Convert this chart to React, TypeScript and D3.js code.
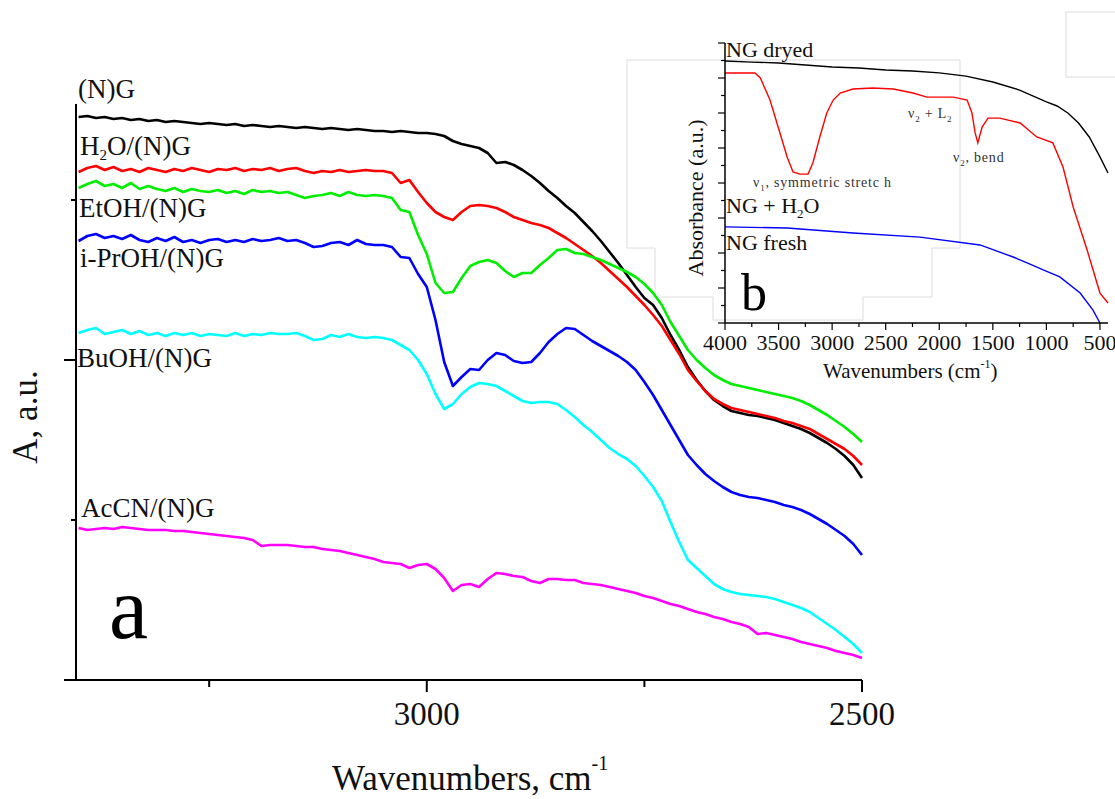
import React from 'react';
import * as d3 from 'd3';

// ---------- main panel (a) ----------
const WAVENUMBERS = [
  3400, 3390, 3380, 3370, 3360, 3350, 3340, 3330, 3320, 3310,
  3300, 3290, 3280, 3270, 3260, 3250, 3240, 3230, 3220, 3210,
  3200, 3190, 3180, 3170, 3160, 3150, 3140, 3130, 3120, 3110,
  3100, 3090, 3080, 3070, 3060, 3050, 3040, 3030, 3020, 3010,
  3000, 2990, 2980, 2970, 2960, 2950, 2940, 2930, 2920, 2910,
  2900, 2890, 2880, 2870, 2860, 2850, 2840, 2830, 2820, 2810,
  2800, 2790, 2780, 2770, 2760, 2750, 2740, 2730, 2720, 2710,
  2700, 2690, 2680, 2670, 2660, 2650, 2640, 2630, 2620, 2610,
  2600, 2590, 2580, 2570, 2560, 2550, 2540, 2530, 2520, 2510, 2500,
];

const NG = [
  563, 564, 562, 563, 561, 562, 560, 561, 559, 560,
  558, 559, 558, 557, 556, 557, 556, 555, 556, 554,
  555, 554, 553, 554, 553, 552, 553, 552, 551, 552,
  551, 550, 551, 550, 549, 549, 548, 549, 548, 547,
  547, 546, 544, 539, 536, 534, 532, 527, 517, 518,
  515, 510, 504, 497, 489, 482, 474, 467, 458, 449,
  439, 428, 417, 405, 393, 382, 375, 362, 345, 330,
  313, 300, 289, 280, 274, 269, 267, 265, 264, 262,
  260, 257, 254, 251, 247, 242, 237, 231, 224, 215, 202,
];

const H2O_NG = [
  508, 512, 514, 510, 513, 509, 511, 508, 512, 510,
  508, 511, 509, 512, 510, 508, 511, 510, 512, 509,
  511, 510, 512, 509, 511, 512, 509, 507, 509, 508,
  510, 508, 509, 510, 509, 509, 507, 497, 500, 488,
  477, 468, 463, 460, 468, 474, 475, 474, 472, 468,
  463, 460, 457, 455, 452, 447, 442, 436, 430, 424,
  417, 409, 401, 393, 384, 375, 365, 354, 340, 326,
  310, 299, 289, 281, 276, 272, 270, 268, 266, 264,
  262, 259, 257, 254, 251, 246, 241, 236, 231, 224, 215,
];

const ETOH_NG = [
  492, 496, 499, 494, 496, 492, 497, 491, 494, 491,
  489, 492, 488, 491, 489, 488, 490, 487, 489, 486,
  490, 488, 489, 487, 488, 485, 482, 484, 485, 487,
  484, 488, 485, 484, 485, 484, 482, 470, 468, 445,
  426, 397, 387, 388, 402, 414, 418, 420, 417, 409,
  403, 407, 407, 415, 422, 430, 431, 427, 426, 423,
  420, 416, 412, 408, 403, 396, 387, 375, 358, 344,
  330, 320, 312, 305, 300, 296, 294, 292, 290, 288,
  286, 284, 282, 279, 275, 270, 265, 259, 253, 246, 238,
];

const IPROH_NG = [
  439, 444, 446, 442, 444, 441, 445, 440, 438, 442,
  439, 443, 438, 440, 437, 440, 441, 438, 440, 438,
  441, 439, 440, 442, 439, 440, 437, 433, 434, 437,
  438, 435, 440, 436, 435, 435, 433, 423, 422, 406,
  393, 360, 318, 294, 303, 311, 310, 320, 327, 325,
  319, 317, 318, 327, 338, 346, 352, 351, 345, 339,
  334, 329, 324, 318, 310, 298, 285, 270, 255, 240,
  225, 215, 206, 199, 193, 188, 185, 183, 182, 180,
  178, 175, 173, 170, 166, 161, 156, 150, 144, 136, 125,
];

const BUOH_NG = [
  347, 350, 352, 346, 348, 350, 346, 349, 345, 347,
  344, 347, 345, 347, 344, 346, 345, 344, 347, 344,
  346, 345, 347, 346, 346, 347, 344, 340, 341, 345,
  343, 346, 343, 342, 343, 342, 340, 335, 330, 320,
  306, 286, 271, 276, 286, 293, 297, 296, 294, 289,
  284, 279, 277, 278, 278, 276, 270, 263, 255, 248,
  240, 232, 226, 221, 214, 204, 193, 179, 158, 138,
  120, 112, 104, 96, 91, 88, 86, 85, 84, 83,
  81, 78, 75, 72, 68, 62, 56, 50, 43, 36, 27,
];

const ACCN_NG = [
  152, 150, 151, 152, 151, 153, 152, 151, 150, 150,
  150, 149, 149, 148, 147, 146, 145, 144, 143, 142,
  140, 134, 135, 135, 135, 134, 133, 133, 131, 130,
  129, 127, 125, 123, 121, 118, 117, 116, 112, 115,
  116, 111, 102, 89, 95, 96, 93, 101, 107, 106,
  104, 103, 99, 97, 101, 101, 100, 100, 97, 96,
  95, 93, 91, 89, 87, 84, 82, 79, 76, 74,
  71, 68, 66, 63, 61, 58, 56, 53, 46, 47,
  45, 43, 41, 38, 36, 34, 32, 29, 27, 25, 22,
];

const X_TICKS = [3250, 3000, 2750, 2500];
const X_TICK_LABELS = ['', '3000', '', '2500'];
const Y_TICKS = [0, 160, 320, 480];

// ---------- inset (b) ----------
const INSET_DRYED_WN = [4000, 3750, 3500, 3250, 3000, 2750, 2500, 2250, 2000, 1750, 1500, 1250, 1000, 900, 800, 700, 600, 500, 425];
const INSET_DRYED = [14.97, 14.91, 14.86, 14.74, 14.63, 14.57, 14.46, 14.4, 14.29, 14.11, 13.77, 13.31, 12.63, 12.4, 12.0, 11.43, 10.63, 9.49, 8.57];

const INSET_H2O_WN = [4000, 3720, 3670, 3580, 3487, 3420, 3365, 3300, 3225, 3180, 3115, 3050, 2990, 2925, 2805, 2620, 2430, 2245, 2115, 1870, 1740, 1695, 1665, 1640, 1600, 1545, 1435, 1245, 1090, 940, 845, 750, 620, 500, 425];
const INSET_H2O = [14.29, 14.29, 14.0, 12.74, 10.86, 9.49, 8.63, 8.51, 8.51, 9.14, 10.63, 12.0, 12.74, 13.14, 13.37, 13.43, 13.37, 13.14, 12.91, 12.91, 12.74, 12.0, 10.86, 10.29, 11.2, 11.71, 11.71, 11.43, 10.63, 10.29, 8.91, 6.63, 4.17, 1.71, 1.14];

const INSET_FRESH_WN = [4000, 3420, 2805, 2180, 1620, 1310, 1180, 1030, 875, 685, 565, 500];
const INSET_FRESH = [5.49, 5.43, 5.14, 4.91, 4.46, 3.77, 3.43, 3.03, 2.63, 1.71, 0.74, 0.0];

const INSET_X_TICKS = [4000, 3750, 3500, 3250, 3000, 2750, 2500, 2250, 2000, 1750, 1500, 1250, 1000, 750, 500];
const INSET_X_LABELS = ['4000', '3500', '3000', '2500', '2000', '1500', '1000', '500'];
const INSET_Y_TICKS = [0, 1, 2, 3, 4, 5, 6, 7, 8, 9, 10, 11, 12, 13, 14, 15, 16];

const SERIF = "'Liberation Serif', 'Times New Roman', serif";

export default function App() {
  const x = d3.scaleLinear().domain([3403, 2500]).range([76, 862]);
  const y = d3.scaleLinear().domain([0, 576]).range([680, 104]);
  const line = d3
    .line<number>()
    .x((_, i) => x(WAVENUMBERS[i]))
    .y((d) => y(d));

  const mainSeries = [
    { values: ACCN_NG, color: '#ff00ff' },
    { values: BUOH_NG, color: '#00ffff' },
    { values: IPROH_NG, color: '#0000ff' },
    { values: NG, color: '#000000' },
    { values: H2O_NG, color: '#ff0000' },
    { values: ETOH_NG, color: '#00ee00' },
  ];

  const xi = d3.scaleLinear().domain([4000, 425]).range([725, 1108]);
  const yi = d3.scaleLinear().domain([0, 16]).range([323, 43]);
  const insetLine = (wn: number[], vals: number[]) =>
    d3
      .line<number>()
      .x((_, i) => xi(wn[i]))
      .y((d) => yi(d))(vals) || '';

  const insetSeries = [
    { wn: INSET_DRYED_WN, values: INSET_DRYED, color: '#000000' },
    { wn: INSET_H2O_WN, values: INSET_H2O, color: '#ff0000' },
    { wn: INSET_FRESH_WN, values: INSET_FRESH, color: '#0000ff' },
  ];

  return (
    <svg
      width={1115}
      height={799}
      style={{ position: 'absolute', left: 0, top: 0, background: '#fff' }}
      fontFamily={SERIF}
    >
      <rect x={0} y={0} width={1115} height={799} fill="#fff" />

      {/* faint composition artifacts */}
      <path
        d="M627,60 H960 V248 H932 V297 H863 V320 H713 V297 H655 V248 H627 Z"
        fill="none"
        stroke="#dcdcdc"
        strokeWidth={1}
      />
      <rect x={1066} y={12} width={60} height={65} fill="none" stroke="#dcdcdc" strokeWidth={1} />

      {/* main curves */}
      {mainSeries.map((s, i) => (
        <path
          key={i}
          d={line(s.values) || ''}
          fill="none"
          stroke={s.color}
          strokeWidth={2.6}
          strokeLinejoin="round"
        />
      ))}

      {/* main axes */}
      <line x1={x(3403)} x2={x(2500)} y1={y(0)} y2={y(0)} stroke="#000" strokeWidth={2} />
      <line x1={x(3403)} x2={x(3403)} y1={y(0)} y2={y(576)} stroke="#000" strokeWidth={2} />
      {X_TICKS.map((t, i) => (
        <g key={t}>
          <line
            x1={x(t)}
            x2={x(t)}
            y1={y(0)}
            y2={y(0) + (X_TICK_LABELS[i] ? 12 : 7)}
            stroke="#000"
            strokeWidth={2}
          />
          {X_TICK_LABELS[i] && (
            <text x={x(t)} y={725} fontSize={33} textAnchor="middle" fill="#111">
              {X_TICK_LABELS[i]}
            </text>
          )}
        </g>
      ))}
      {Y_TICKS.map((t, i) => (
        <line
          key={t}
          x1={x(3403) - (i % 2 === 0 ? 12 : 5)}
          x2={x(3403)}
          y1={y(t)}
          y2={y(t)}
          stroke="#000"
          strokeWidth={2}
        />
      ))}

      <text x={332} y={790} fontSize={35} fill="#111">
        Wavenumbers, cm
        <tspan fontSize={20} dy={-20}>
          -1
        </tspan>
      </text>
      <text transform="translate(37,417) rotate(-90)" fontSize={35} textAnchor="middle" fill="#111">
        A, a.u.
      </text>

      {/* series labels */}
      <g fontSize={27} fill="#111">
        <text x={78} y={98}>(N)G</text>
        <text x={80} y={155}>
          H<tspan fontSize={15} dy={5}>2</tspan>
          <tspan dy={-5}>O/(N)G</tspan>
        </text>
        <text x={79} y={217}>EtOH/(N)G</text>
        <text x={80} y={267}>i-PrOH/(N)G</text>
        <text x={77} y={367}>BuOH/(N)G</text>
        <text x={81} y={517}>AcCN/(N)G</text>
      </g>
      <text x={109} y={638} fontSize={88} fill="#000">
        a
      </text>

      {/* inset */}
      {insetSeries.map((s, i) => (
        <path key={i} d={insetLine(s.wn, s.values)} fill="none" stroke={s.color} strokeWidth={1.4} />
      ))}
      <line x1={xi(4000)} x2={xi(425)} y1={yi(0)} y2={yi(0)} stroke="#000" strokeWidth={1.5} />
      <line x1={xi(4000)} x2={xi(4000)} y1={yi(0)} y2={yi(16)} stroke="#000" strokeWidth={1.5} />
      {INSET_X_TICKS.map((t, i) => (
        <line
          key={t}
          x1={xi(t)}
          x2={xi(t)}
          y1={yi(0)}
          y2={yi(0) + (i % 2 === 0 ? 7 : 4)}
          stroke="#000"
          strokeWidth={1.2}
        />
      ))}
      {INSET_X_LABELS.map((l) => (
        <text key={l} x={xi(+l)} y={350} fontSize={22} textAnchor="middle" fill="#111">
          {l}
        </text>
      ))}
      {INSET_Y_TICKS.map((t) => (
        <line
          key={t}
          x1={yi(t) && xi(4000) - (t % 2 === 0 ? 7 : 4)}
          x2={xi(4000)}
          y1={yi(t)}
          y2={yi(t)}
          stroke="#000"
          strokeWidth={1.2}
        />
      ))}
      <text x={823} y={378} fontSize={21} fill="#111">
        Wavenumbers (cm
        <tspan fontSize={12} dy={-10}>
          -1
        </tspan>
        <tspan dy={10}>)</tspan>
      </text>
      <text transform="translate(703,198) rotate(-90)" fontSize={22} textAnchor="middle" fill="#111">
        Absorbance (a.u.)
      </text>
      <g fontSize={22} fill="#111">
        <text x={726} y={57}>NG dryed</text>
        <text x={726} y={213}>
          NG + H<tspan fontSize={13} dy={5}>2</tspan>
          <tspan dy={-5}>O</tspan>
        </text>
        <text x={726} y={250}>NG fresh</text>
      </g>
      <text x={741} y={310} fontSize={52} fill="#000">
        b
      </text>
      <g fontSize={14} fill="#333" letterSpacing={0.8}>
        <text x={908} y={118}>
          ν<tspan fontSize={9} dy={4}>2</tspan>
          <tspan dy={-4}> + L</tspan>
          <tspan fontSize={9} dy={4}>2</tspan>
        </text>
        <text x={953} y={162}>
          ν<tspan fontSize={9} dy={4}>2</tspan>
          <tspan dy={-4}>, bend</tspan>
        </text>
        <text x={753} y={187}>
          ν<tspan fontSize={9} dy={4}>1</tspan>
          <tspan dy={-4}>, symmetric stretc h</tspan>
        </text>
      </g>
    </svg>
  );
}
